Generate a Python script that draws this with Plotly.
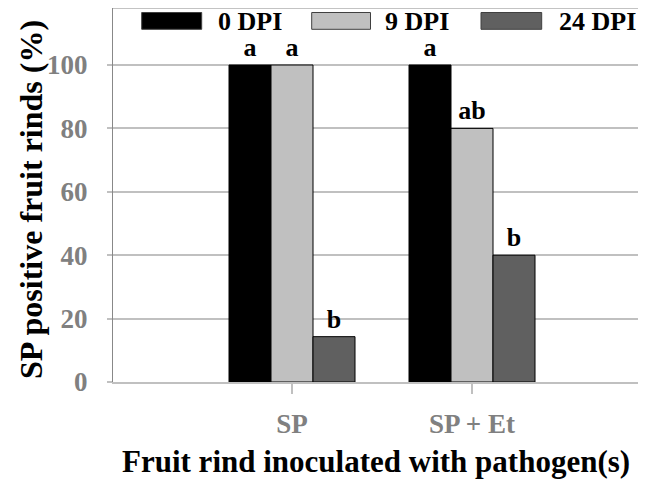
import plotly.graph_objects as go

categories = ["SP", "SP + Et"]
series_names = ["0 DPI", "9 DPI", "24 DPI"]
values_0dpi = [100, 100]
values_9dpi = [100, 80]
values_24dpi = [14.3, 40]
letters_0dpi = ["a", "a"]
letters_9dpi = ["a", "ab"]
letters_24dpi = ["b", "b"]
y_tick_values = [0, 20, 40, 60, 80, 100]
y_tick_labels = ["0", "20", "40", "60", "80", "100"]

colors = ["#000000", "#c0c0c0", "#606060"]
FONT = "Liberation Serif, Times New Roman, serif"

# the page body has an 8px margin, so the figure is placed at (8, 8)
OFF = 8
W, H = 630, 474
ML, MR, MT, MB = 105, 0, 0, 100
PW, PH = W - ML - MR, H - MT - MB


def px_x(p):
    return (p - OFF - ML) / PW


def px_y(p):
    return (H - MB - (p - OFF)) / PH


fig = go.Figure()
series = [values_0dpi, values_9dpi, values_24dpi]
letters = [letters_0dpi, letters_9dpi, letters_24dpi]
for name, vals, lets, col in zip(series_names, series, letters, colors):
    fig.add_trace(go.Bar(
        x=categories, y=vals, name=name, text=lets,
        textposition="outside", cliponaxis=False,
        textfont=dict(family=FONT, size=26, color="black", weight="bold"),
        marker=dict(color=col, line=dict(color="black", width=1)),
        showlegend=False,
    ))

# custom legend (wide swatches as in the original)
sw = [(141.7, 201.7), (311.7, 370.5), (481, 541.7)]
tx = [216, 383, 556.7]
shapes = []
annotations = []
for (x0, x1), t, name, col in zip(sw, tx, series_names, colors):
    shapes.append(dict(type="rect", xref="paper", yref="paper",
                       x0=px_x(x0), x1=px_x(x1), y0=px_y(29.3), y1=px_y(12.5),
                       fillcolor=col, line=dict(color="#404040", width=1)))
    annotations.append(dict(xref="paper", yref="paper", x=px_x(t), y=px_y(21),
                            text=name, showarrow=False, xanchor="left", yanchor="middle",
                            height=24, valign="middle",
                            font=dict(family=FONT, size=26, color="black", weight="bold")))

# top frame line
shapes.append(dict(type="line", xref="paper", yref="paper", x0=0, x1=1, y0=1, y1=1,
                   line=dict(color="#888888", width=1.2)))

annotations.append(dict(xref="paper", yref="paper", x=px_x(31), y=px_y(200),
                        text="SP positive fruit rinds (%)", showarrow=False, textangle=-90,
                        xanchor="center", yanchor="middle",
                        font=dict(family=FONT, size=32, color="black", weight="bold")))
annotations.append(dict(xref="paper", yref="paper", x=px_x(376), y=px_y(461),
                        text="Fruit rind inoculated with pathogen(s)", showarrow=False,
                        xanchor="center", yanchor="middle",
                        font=dict(family=FONT, size=31, color="black", weight="bold")))

fig.update_layout(
    width=W, height=H,
    margin=dict(l=ML, r=MR, t=MT, b=MB),
    paper_bgcolor="white", plot_bgcolor="white",
    barmode="group", bargap=0.3, bargroupgap=0,
    shapes=shapes, annotations=annotations,
    xaxis=dict(
        type="category", range=[(113 - 292) / 180, (638 - 292) / 180],
        showline=True, linecolor="#c0c0c0", linewidth=2,
        ticks="outside", ticklen=10, tickwidth=1.5, tickcolor="#c0c0c0",
        tickfont=dict(family=FONT, size=27, color="#808080", weight="bold"),
        ticklabelstandoff=7, showgrid=False, automargin=False,
    ),
    yaxis=dict(
        range=[0, (382 - 8) / 3.17],
        tickvals=y_tick_values, ticktext=y_tick_labels,
        showline=True, linecolor="#888888", linewidth=1.2,
        ticks="outside", ticklen=5, tickwidth=1.5, tickcolor="#c0c0c0",
        showgrid=True, gridcolor="#c0c0c0", gridwidth=1.5, zeroline=False,
        tickfont=dict(family=FONT, size=27, color="#808080", weight="bold"),
        ticklabelstandoff=14, automargin=False,
    ),
)

fig.write_html("out.html")
